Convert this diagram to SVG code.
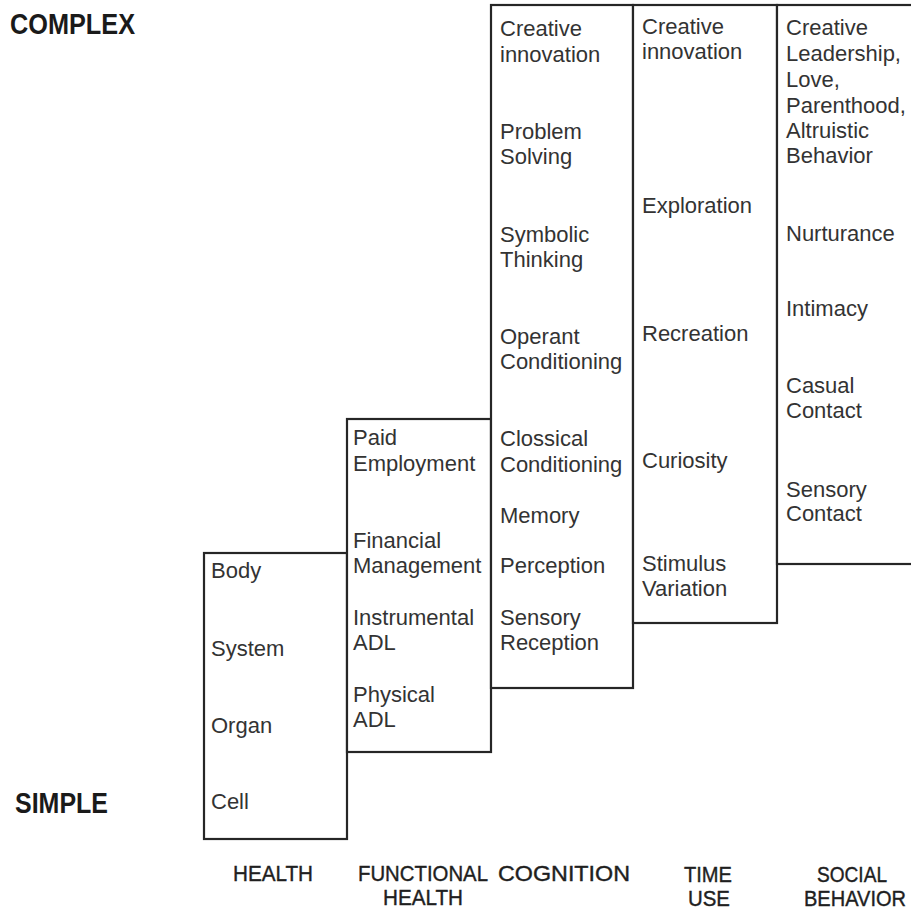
<svg xmlns="http://www.w3.org/2000/svg" width="911" height="912" viewBox="0 0 911 912">
  <style>
    .box { fill: #ffffff; stroke: #262626; stroke-width: 2.2; }
    .item { font-family: "Liberation Sans", Arial, sans-serif; font-size: 22px; fill: #333333; }
    .axis { font-family: "Liberation Sans", Arial, sans-serif; font-size: 29px; font-weight: bold; fill: #1a1a1a; }
    .cat { font-family: "Liberation Sans", Arial, sans-serif; font-size: 22px; fill: #1f1f1f; stroke: #1f1f1f; stroke-width: 0.4; }
  </style>
  <rect width="911" height="912" fill="#ffffff"/>

  <!-- vertical scale labels -->
  <text class="axis" x="10" y="34" textLength="125" lengthAdjust="spacingAndGlyphs">COMPLEX</text>
  <text class="axis" x="15" y="813" textLength="93" lengthAdjust="spacingAndGlyphs">SIMPLE</text>

  <g id="connectors"></g>

  <!-- HEALTH column -->
  <g id="health">
    <rect class="box" x="204" y="553" width="143" height="286"/>
    <text class="item" x="211" y="578">Body</text>
    <text class="item" x="211" y="656">System</text>
    <text class="item" x="211" y="733">Organ</text>
    <text class="item" x="211" y="809">Cell</text>
    <text class="cat" x="233" y="881" textLength="80" lengthAdjust="spacingAndGlyphs">HEALTH</text>
  </g>

  <!-- FUNCTIONAL HEALTH column -->
  <g id="functional-health">
    <rect class="box" x="347" y="419" width="144" height="333"/>
    <text class="item" x="353" y="445">Paid</text>
    <text class="item" x="353" y="471">Employment</text>
    <text class="item" x="353" y="548">Financial</text>
    <text class="item" x="353" y="573">Management</text>
    <text class="item" x="353" y="625">Instrumental</text>
    <text class="item" x="353" y="650">ADL</text>
    <text class="item" x="353" y="702">Physical</text>
    <text class="item" x="353" y="727">ADL</text>
    <text class="cat" x="358" y="881" textLength="130" lengthAdjust="spacingAndGlyphs">FUNCTIONAL</text>
    <text class="cat" x="383" y="905" textLength="80" lengthAdjust="spacingAndGlyphs">HEALTH</text>
  </g>

  <!-- COGNITION column -->
  <g id="cognition">
    <rect class="box" x="491" y="5" width="142" height="683"/>
    <text class="item" x="500" y="36">Creative</text>
    <text class="item" x="500" y="62">innovation</text>
    <text class="item" x="500" y="139">Problem</text>
    <text class="item" x="500" y="164">Solving</text>
    <text class="item" x="500" y="242">Symbolic</text>
    <text class="item" x="500" y="267">Thinking</text>
    <text class="item" x="500" y="344">Operant</text>
    <text class="item" x="500" y="369">Conditioning</text>
    <text class="item" x="500" y="446">Clossical</text>
    <text class="item" x="500" y="472">Conditioning</text>
    <text class="item" x="500" y="523">Memory</text>
    <text class="item" x="500" y="573">Perception</text>
    <text class="item" x="500" y="625">Sensory</text>
    <text class="item" x="500" y="650">Reception</text>
    <text class="cat" x="498" y="881" textLength="132" lengthAdjust="spacingAndGlyphs">COGNITION</text>
  </g>

  <!-- TIME USE column -->
  <g id="time-use">
    <rect class="box" x="633" y="5" width="144" height="618"/>
    <text class="item" x="642" y="34">Creative</text>
    <text class="item" x="642" y="59">innovation</text>
    <text class="item" x="642" y="213">Exploration</text>
    <text class="item" x="642" y="341">Recreation</text>
    <text class="item" x="642" y="468">Curiosity</text>
    <text class="item" x="642" y="571">Stimulus</text>
    <text class="item" x="642" y="596">Variation</text>
    <text class="cat" x="684" y="882" textLength="48" lengthAdjust="spacingAndGlyphs">TIME</text>
    <text class="cat" x="688" y="906" textLength="42" lengthAdjust="spacingAndGlyphs">USE</text>
  </g>

  <!-- SOCIAL BEHAVIOR column -->
  <g id="social-behavior">
    <rect class="box" x="777" y="5" width="150" height="559"/>
    <text class="item" x="786" y="35">Creative</text>
    <text class="item" x="786" y="61">Leadership,</text>
    <text class="item" x="786" y="87">Love,</text>
    <text class="item" x="786" y="113">Parenthood,</text>
    <text class="item" x="786" y="138">Altruistic</text>
    <text class="item" x="786" y="163">Behavior</text>
    <text class="item" x="786" y="241">Nurturance</text>
    <text class="item" x="786" y="316">Intimacy</text>
    <text class="item" x="786" y="393">Casual</text>
    <text class="item" x="786" y="418">Contact</text>
    <text class="item" x="786" y="497">Sensory</text>
    <text class="item" x="786" y="521">Contact</text>
    <text class="cat" x="817" y="882" textLength="70" lengthAdjust="spacingAndGlyphs">SOCIAL</text>
    <text class="cat" x="804" y="906" textLength="102" lengthAdjust="spacingAndGlyphs">BEHAVIOR</text>
  </g>
</svg>
